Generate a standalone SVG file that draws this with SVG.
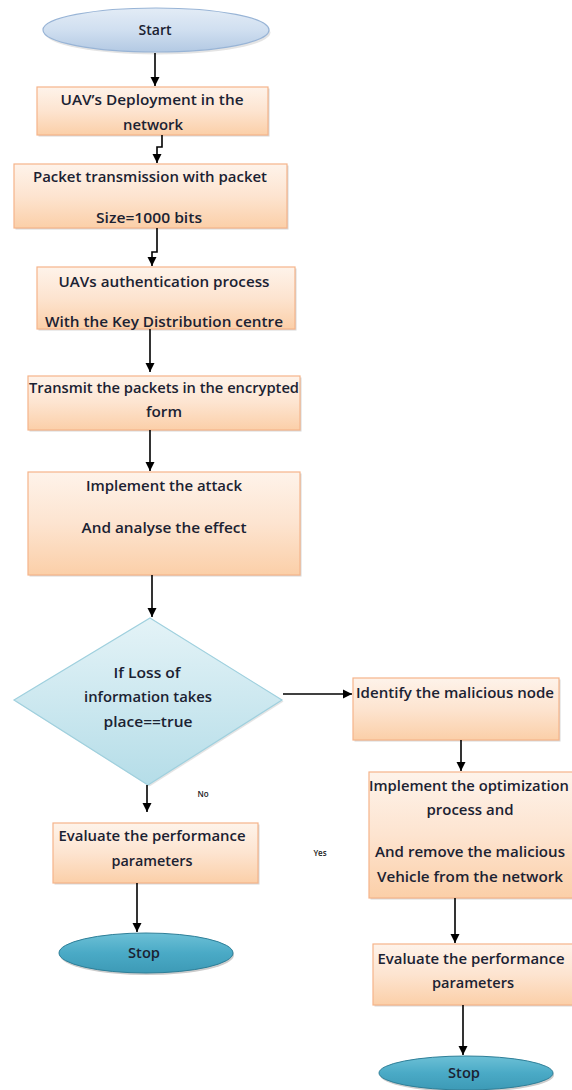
<svg xmlns="http://www.w3.org/2000/svg" width="572" height="1090" viewBox="0 0 572 1090">
<defs>
<linearGradient id="gBox" x1="0" y1="0" x2="0" y2="1">
<stop offset="0" stop-color="#fef3ea"/>
<stop offset="0.5" stop-color="#fde4d0"/>
<stop offset="1" stop-color="#fbcfa8"/>
</linearGradient>
<linearGradient id="gDia" x1="0" y1="0" x2="0" y2="1">
<stop offset="0" stop-color="#e4f3f7"/>
<stop offset="1" stop-color="#b5dde8"/>
</linearGradient>
<linearGradient id="gStart" x1="0" y1="0" x2="0" y2="1">
<stop offset="0" stop-color="#e3ecf6"/>
<stop offset="0.5" stop-color="#d0dff0"/>
<stop offset="1" stop-color="#b3c9e3"/>
</linearGradient>
<linearGradient id="gStop" x1="0" y1="0" x2="0" y2="1">
<stop offset="0" stop-color="#6cc0d6"/>
<stop offset="0.5" stop-color="#4aaac6"/>
<stop offset="1" stop-color="#3d9ab6"/>
</linearGradient>
<marker id="arr" markerWidth="10" markerHeight="10" refX="9" refY="5" orient="auto" markerUnits="userSpaceOnUse">
<path d="M0,0.5 L9,5 L0,9.5 Z" fill="#000"/>
</marker>
</defs>
<style>
.box{fill:url(#gBox);stroke:#f5b48a;stroke-width:1.2}
.shadow{fill:#b8b8b8;opacity:0.55}
.dia{fill:url(#gDia);stroke:#9fd0de;stroke-width:1.2}
.start{fill:url(#gStart);stroke:#98b4d6;stroke-width:1.2}
.stop{fill:url(#gStop);stroke:#2f7f98;stroke-width:1}
.t{font-family:"Open Sans","Liberation Sans",sans-serif;font-size:14px;font-weight:600;fill:#1b2232;text-anchor:middle}
.s{font-family:"Open Sans","Liberation Sans",sans-serif;font-size:8px;font-weight:600;fill:#222;text-anchor:middle}
.c{fill:none;stroke:#000;stroke-width:1.6}
</style>

<g id="start">
<ellipse cx="156" cy="31" rx="113" ry="22" fill="#c9c9c9" opacity="0.5" transform="translate(1.5,1.5)"/>
<ellipse class="start" cx="156" cy="30" rx="113" ry="22"/>
<text class="t" x="155" y="35" textLength="33" lengthAdjust="spacingAndGlyphs">Start</text>
</g>

<g id="box1">
<rect class="shadow" x="38.5" y="88.5" width="231" height="48"/>
<rect class="box" x="37" y="87" width="231" height="48"/>
<text class="t" x="152" y="105" textLength="183" lengthAdjust="spacingAndGlyphs">UAV’s Deployment in the</text>
<text class="t" x="153" y="130" textLength="60" lengthAdjust="spacingAndGlyphs">network</text>
</g>

<g id="box2">
<rect class="shadow" x="15.5" y="165.5" width="273" height="64"/>
<rect class="box" x="14" y="164" width="273" height="64"/>
<text class="t" x="150" y="182" textLength="234" lengthAdjust="spacingAndGlyphs">Packet transmission with packet</text>
<text class="t" x="149" y="223" textLength="106" lengthAdjust="spacingAndGlyphs">Size=1000 bits</text>
</g>

<g id="box3">
<rect class="shadow" x="38.5" y="268.5" width="258" height="62"/>
<rect class="box" x="37" y="267" width="258" height="62"/>
<text class="t" x="164" y="287" textLength="211" lengthAdjust="spacingAndGlyphs">UAVs authentication process</text>
<text class="t" x="164" y="327" textLength="238" lengthAdjust="spacingAndGlyphs">With the Key Distribution centre</text>
</g>

<g id="box4">
<rect class="shadow" x="29.5" y="377.5" width="272" height="54"/>
<rect class="box" x="28" y="376" width="272" height="54"/>
<text class="t" x="164" y="393" textLength="270" lengthAdjust="spacingAndGlyphs">Transmit the packets in the encrypted</text>
<text class="t" x="164" y="417" textLength="36" lengthAdjust="spacingAndGlyphs">form</text>
</g>

<g id="box5">
<rect class="shadow" x="29.5" y="473.5" width="272" height="103"/>
<rect class="box" x="28" y="472" width="272" height="103"/>
<text class="t" x="164" y="491" textLength="156" lengthAdjust="spacingAndGlyphs">Implement the attack</text>
<text class="t" x="164" y="533" textLength="165" lengthAdjust="spacingAndGlyphs">And analyse the effect</text>
</g>

<g id="decision">
<polygon points="151.5,619.5 283.5,701.5 149.5,786.5 15.5,701.5" fill="#c9c9c9" opacity="0.5"/>
<polygon class="dia" points="150,618 282,700 148,785 14,700"/>
<text class="t" x="147" y="678" textLength="67" lengthAdjust="spacingAndGlyphs">If Loss of</text>
<text class="t" x="148" y="702" textLength="128" lengthAdjust="spacingAndGlyphs">information takes</text>
<text class="t" x="148" y="727" textLength="89" lengthAdjust="spacingAndGlyphs">place==true</text>
</g>

<g id="identify">
<rect class="shadow" x="354.5" y="679.5" width="206" height="62"/>
<rect class="box" x="353" y="678" width="206" height="62"/>
<text class="t" x="455" y="698" textLength="198" lengthAdjust="spacingAndGlyphs">Identify the malicious node</text>
</g>

<g id="optimize">
<rect class="shadow" x="370.5" y="773.5" width="206" height="126"/>
<rect class="box" x="369" y="772" width="206" height="126"/>
<text class="t" x="469" y="791" textLength="200" lengthAdjust="spacingAndGlyphs">Implement the optimization</text>
<text class="t" x="470" y="815" textLength="87" lengthAdjust="spacingAndGlyphs">process and</text>
<text class="t" x="470" y="857" textLength="190" lengthAdjust="spacingAndGlyphs">And remove the malicious</text>
<text class="t" x="470" y="882" textLength="186" lengthAdjust="spacingAndGlyphs">Vehicle from the network</text>
</g>

<g id="evalLeft">
<rect class="shadow" x="54.5" y="824.5" width="205" height="60"/>
<rect class="box" x="53" y="823" width="205" height="60"/>
<text class="t" x="152" y="841" textLength="187" lengthAdjust="spacingAndGlyphs">Evaluate the performance</text>
<text class="t" x="152" y="866" textLength="81" lengthAdjust="spacingAndGlyphs">parameters</text>
</g>

<g id="evalRight">
<rect class="shadow" x="374.5" y="945.5" width="202" height="61"/>
<rect class="box" x="373" y="944" width="202" height="61"/>
<text class="t" x="471" y="964" textLength="187" lengthAdjust="spacingAndGlyphs">Evaluate the performance</text>
<text class="t" x="473" y="988" textLength="82" lengthAdjust="spacingAndGlyphs">parameters</text>
</g>

<g id="stopLeft">
<ellipse cx="147" cy="955" rx="87" ry="20" fill="#9a9a9a" opacity="0.5"/>
<ellipse class="stop" cx="146" cy="953" rx="87" ry="20"/>
<text class="t" x="144" y="958" textLength="32" lengthAdjust="spacingAndGlyphs">Stop</text>
</g>

<g id="stopRight">
<ellipse cx="467" cy="1075" rx="87" ry="17" fill="#9a9a9a" opacity="0.5"/>
<ellipse class="stop" cx="466" cy="1073" rx="87" ry="17"/>
<text class="t" x="464" y="1078" textLength="32" lengthAdjust="spacingAndGlyphs">Stop</text>
</g>

<g id="labels">
<text class="s" x="203" y="797">No</text>
<text class="s" x="320" y="856">Yes</text>
</g>

<g id="connectors">
<path class="c" d="M155,53 V86" marker-end="url(#arr)"/>
<path class="c" d="M162,135 V147 H157 V163" marker-end="url(#arr)"/>
<path class="c" d="M157,228 V252 H152 V266" marker-end="url(#arr)"/>
<path class="c" d="M150,329 V372" marker-end="url(#arr)"/>
<path class="c" d="M150,430 V471" marker-end="url(#arr)"/>
<path class="c" d="M152,575 V617" marker-end="url(#arr)"/>
<path class="c" d="M283,694 H352" marker-end="url(#arr)"/>
<path class="c" d="M147,785 V812" marker-end="url(#arr)"/>
<path class="c" d="M137,883 V932" marker-end="url(#arr)"/>
<path class="c" d="M461,740 V771" marker-end="url(#arr)"/>
<path class="c" d="M455,898 V943" marker-end="url(#arr)"/>
<path class="c" d="M463,1005 V1055" marker-end="url(#arr)"/>
</g>
</svg>
